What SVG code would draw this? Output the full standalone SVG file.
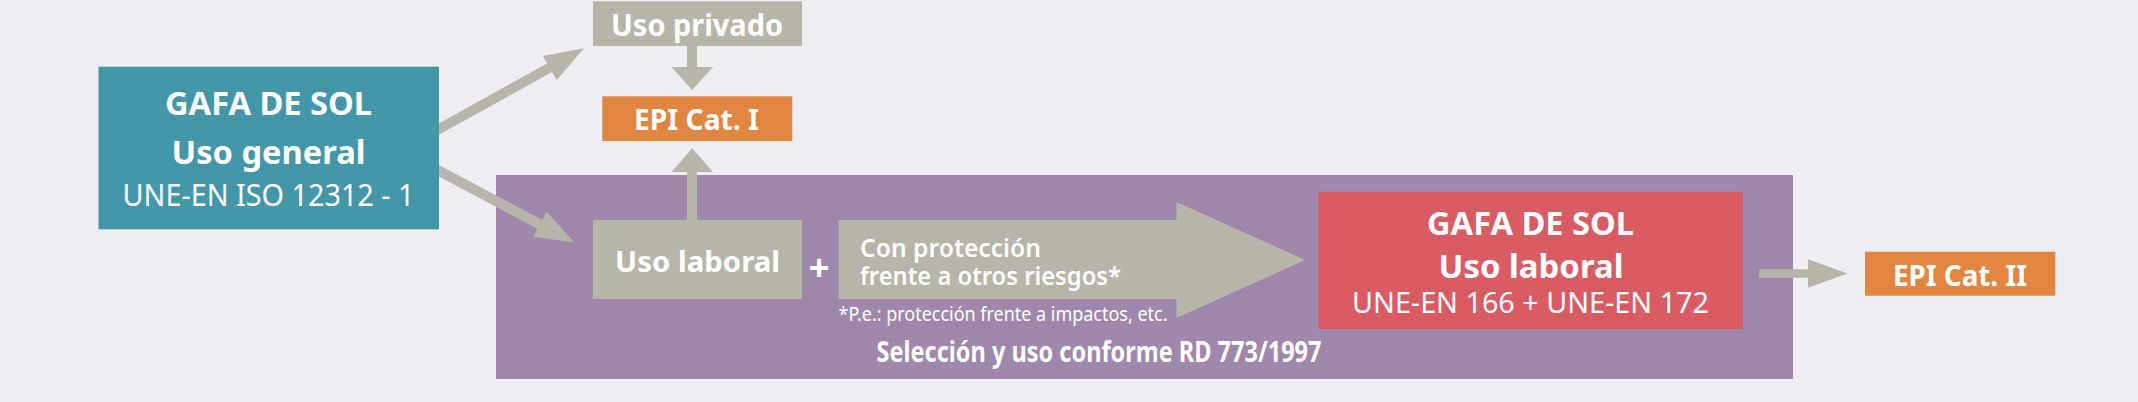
<svg xmlns="http://www.w3.org/2000/svg" width="2138" height="402" viewBox="0 0 2138 402">
<style>
text { font-family: "Noto Sans", "Open Sans", "Liberation Sans", sans-serif; fill: #ffffff; }
.b { font-weight: 700; }
.sb { font-weight: 600; }
.r { font-weight: 400; }
.c { text-anchor: middle; }
.arrow { fill: #b7b5aa; }
.shaft { stroke: #b7b5aa; stroke-width: 10; fill: none; }
</style>
<rect x="0" y="0" width="2138" height="402" fill="#efeef3"/>

<g id="zone-laboral">
  <rect x="496" y="175" width="1297" height="204" fill="#9f88ab"/>
  <text class="b c" x="1099" y="361.7" font-size="28" textLength="445" lengthAdjust="spacingAndGlyphs">Selección y uso conforme RD 773/1997</text>
</g>

<g id="connectors">
  <line class="shaft" x1="430" y1="134" x2="551" y2="67"/>
  <polygon class="arrow" points="542.7,56 584,48.3 556.7,80"/>
  <line class="shaft" x1="430" y1="166" x2="541" y2="225"/>
  <polygon class="arrow" points="546.7,211.7 574.5,242.5 533.3,236.7"/>
  <rect class="arrow" x="687" y="46" width="10" height="22"/>
  <polygon class="arrow" points="671.5,67 713,67 692.2,90"/>
  <rect class="arrow" x="687" y="171" width="10" height="50"/>
  <polygon class="arrow" points="671.5,172 713,172 692.2,148.3"/>
  <rect class="arrow" x="1759" y="269.2" width="50" height="8.6"/>
  <polygon class="arrow" points="1808,259.3 1847.5,273.5 1808,287.7"/>
</g>

<g id="gafa-general">
  <rect x="98.5" y="66.7" width="340.5" height="162.6" fill="#4497a9"/>
  <text class="b c" x="268.5" y="115" font-size="33" textLength="207" lengthAdjust="spacingAndGlyphs">GAFA DE SOL</text>
  <text class="b c" x="268.5" y="164.3" font-size="32" textLength="194" lengthAdjust="spacingAndGlyphs">Uso general</text>
  <text class="r c" x="268.5" y="205.7" font-size="30" textLength="292" lengthAdjust="spacingAndGlyphs">UNE-EN ISO 12312 - 1</text>
</g>

<g id="uso-privado">
  <rect x="593" y="1.3" width="209" height="44.7" fill="#b7b5aa"/>
  <text class="b c" x="697" y="36" font-size="29.5" textLength="172" lengthAdjust="spacingAndGlyphs">Uso privado</text>
</g>

<g id="epi-cat-1">
  <rect x="602.3" y="96.3" width="190" height="44.7" fill="#e08641"/>
  <text class="b c" x="696.5" y="130" font-size="28" textLength="125" lengthAdjust="spacingAndGlyphs">EPI Cat. I</text>
</g>

<g id="uso-laboral">
  <rect x="593" y="220" width="209" height="79" fill="#b7b5aa"/>
  <text class="b c" x="697.5" y="271.7" font-size="28.5" textLength="165" lengthAdjust="spacingAndGlyphs">Uso laboral</text>
</g>

<g id="plus">
  <text class="b c" x="819" y="281" font-size="37">+</text>
</g>

<g id="proteccion">
  <polygon points="838.5,220 1176.5,220 1176.5,202 1305,260 1176.5,318 1176.5,299 838.5,299" fill="#b7b5aa"/>
  <text class="sb" x="860" y="256.7" font-size="25.5" textLength="181" lengthAdjust="spacingAndGlyphs">Con protección</text>
  <text class="sb" x="860" y="285" font-size="25.5" textLength="261" lengthAdjust="spacingAndGlyphs">frente a otros riesgos*</text>
  <text class="r" x="838.5" y="321" font-size="20" textLength="329" lengthAdjust="spacingAndGlyphs">*P.e.: protección frente a impactos, etc.</text>
</g>

<g id="gafa-laboral">
  <rect x="1318.3" y="191.7" width="424.4" height="137.3" fill="#d95c65"/>
  <text class="b c" x="1530.5" y="235" font-size="33" textLength="207" lengthAdjust="spacingAndGlyphs">GAFA DE SOL</text>
  <text class="b c" x="1531" y="278.3" font-size="32" textLength="185" lengthAdjust="spacingAndGlyphs">Uso laboral</text>
  <text class="r c" x="1530.5" y="313.3" font-size="29.5" textLength="357" lengthAdjust="spacingAndGlyphs">UNE-EN 166 + UNE-EN 172</text>
</g>

<g id="epi-cat-2">
  <rect x="1865" y="251.7" width="190.3" height="44" fill="#e08641"/>
  <text class="b c" x="1960" y="285.7" font-size="29" textLength="134" lengthAdjust="spacingAndGlyphs">EPI Cat. II</text>
</g>
</svg>
